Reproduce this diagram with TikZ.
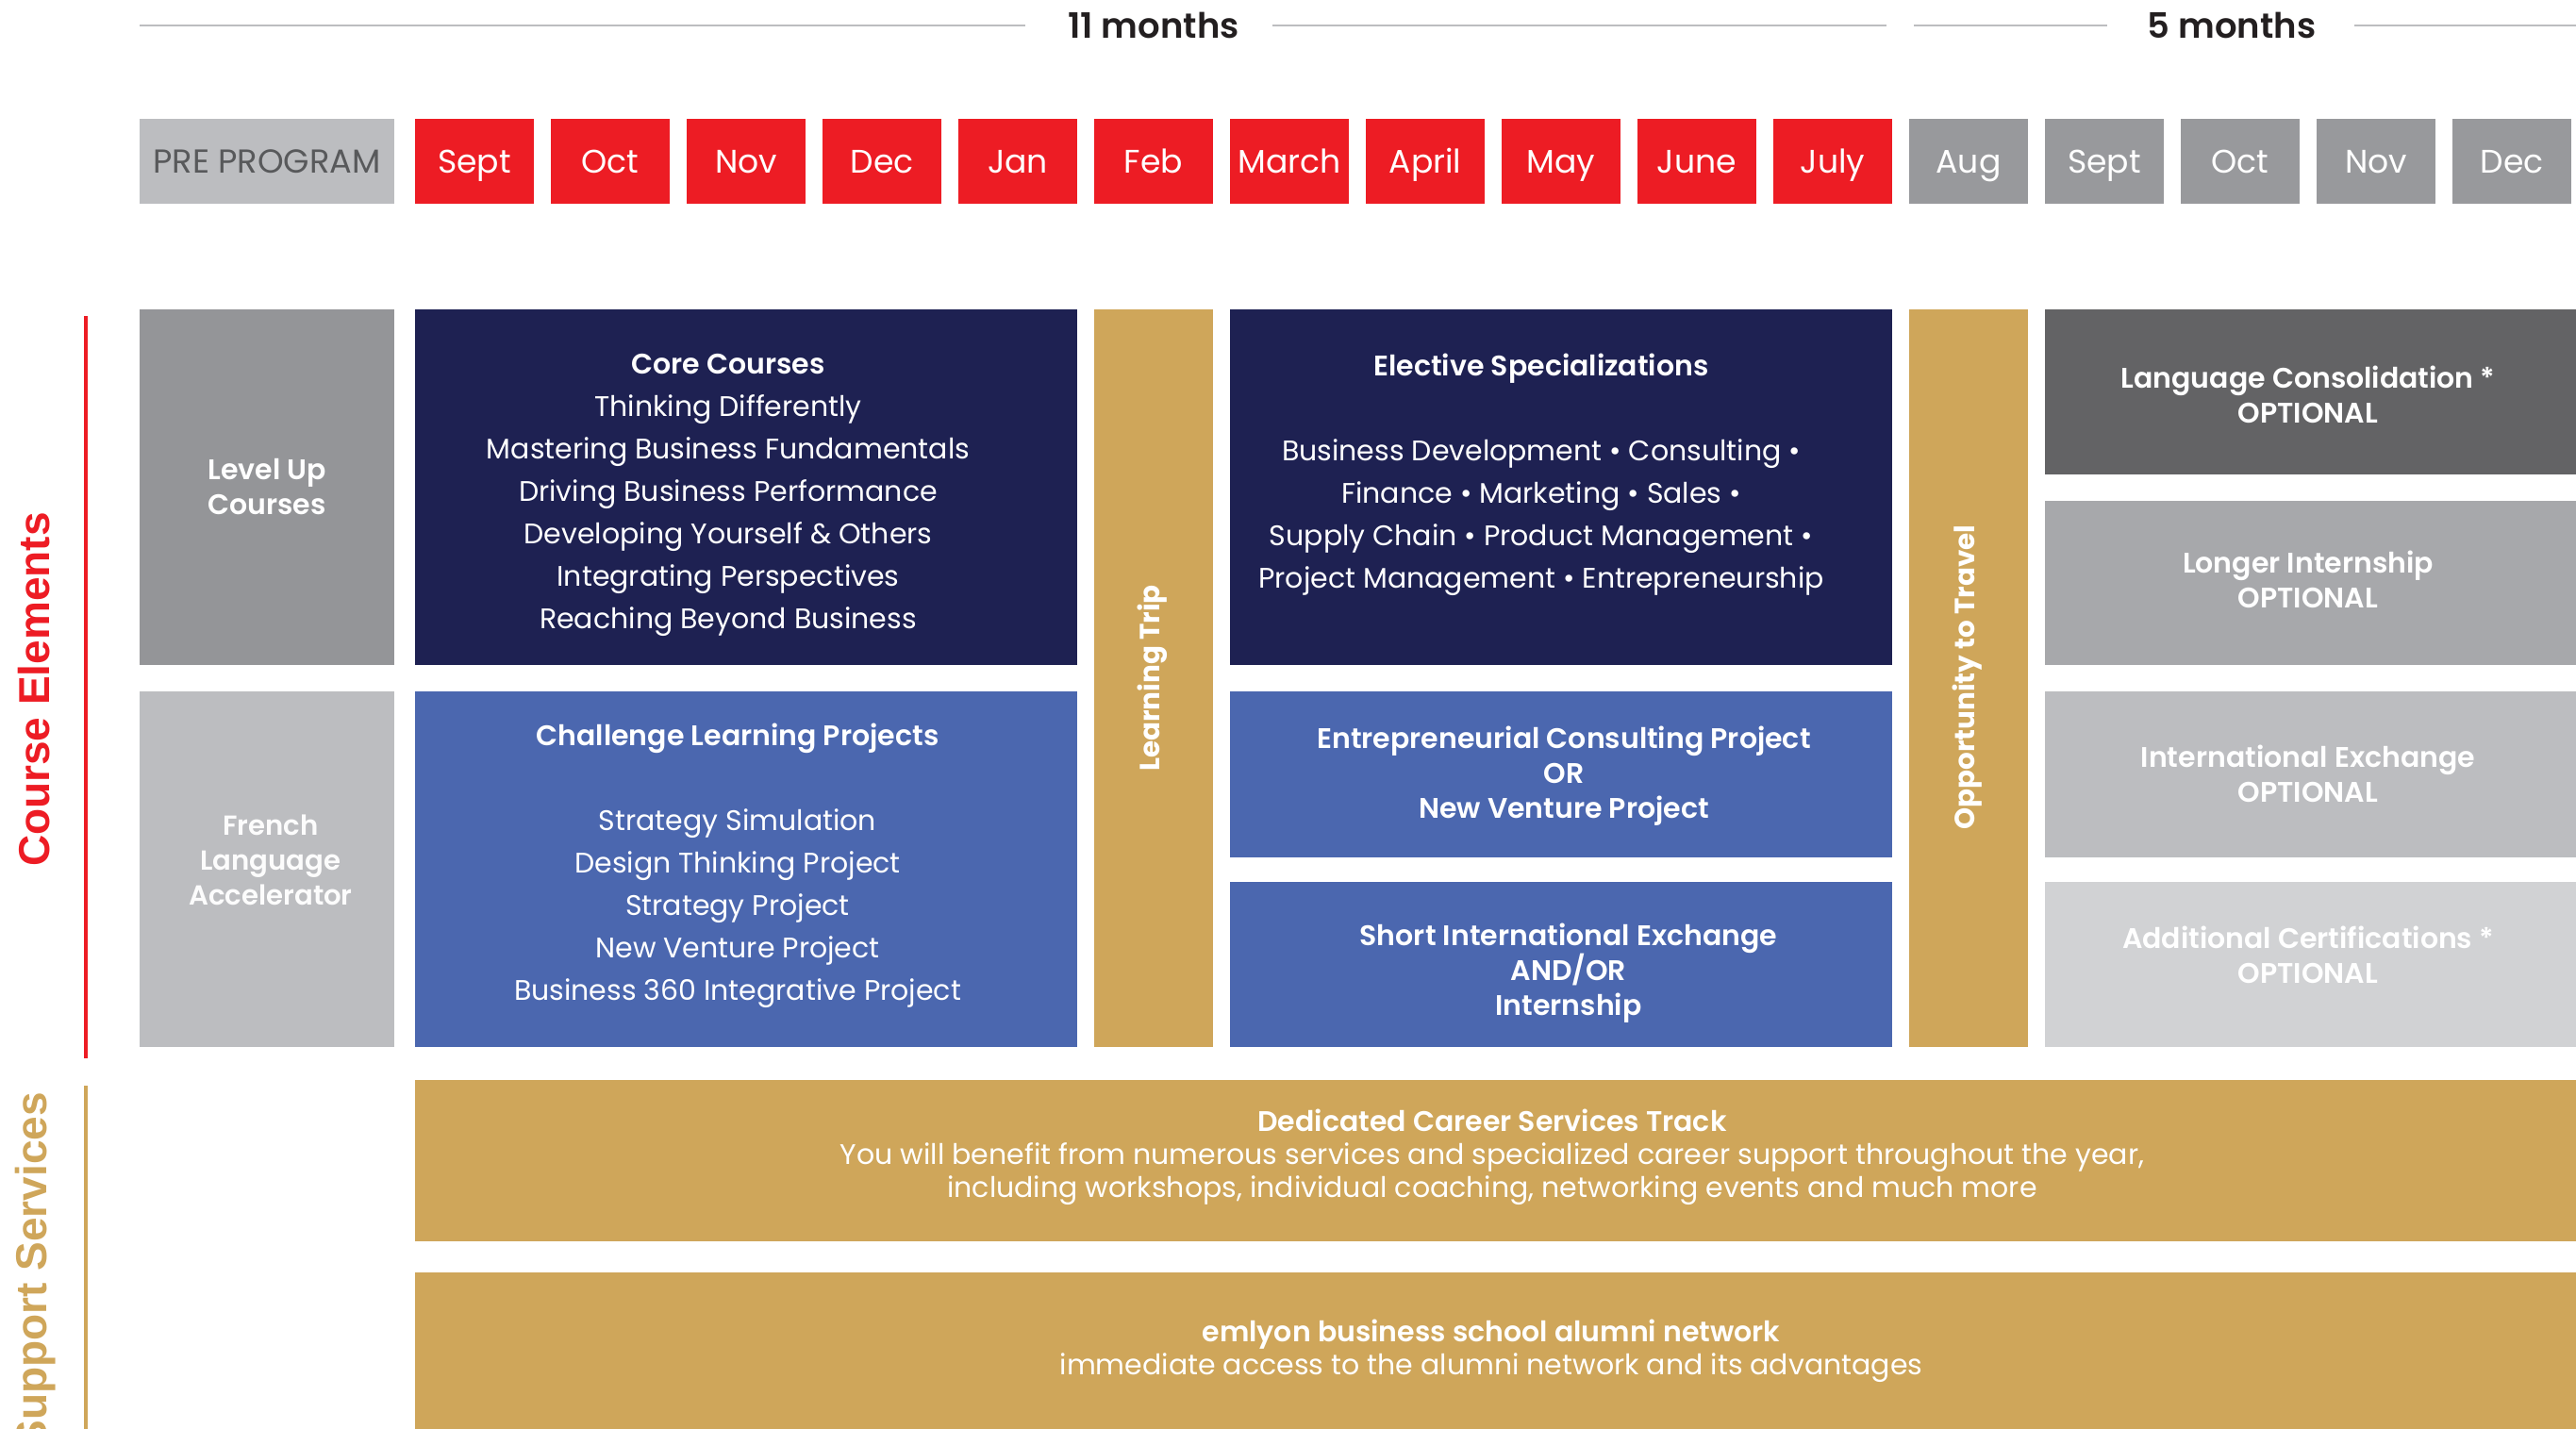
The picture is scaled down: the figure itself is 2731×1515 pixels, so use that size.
\documentclass[tikz,border=0pt]{standalone}
\usepackage{fontspec}
\setmainfont{Poppins}[BoldFont={Poppins SemiBold}]
\newfontfamily\popheavy{Poppins}
\newfontfamily\arialfont{Liberation Sans}
\definecolor{ered}{HTML}{ED1C24}
\definecolor{navy}{HTML}{1E2152}
\definecolor{eblue}{HTML}{4B67AF}
\definecolor{gold}{HTML}{CFA65A}
\definecolor{gA}{HTML}{BCBDC0}
\definecolor{gM}{HTML}{98999C}
\definecolor{gL}{HTML}{949598}
\definecolor{gD}{HTML}{636365}
\definecolor{gB}{HTML}{A7A8AB}
\definecolor{gC}{HTML}{D1D2D4}
\definecolor{ink}{HTML}{231F20}
\definecolor{pretxt}{HTML}{58595B}
\definecolor{rulegray}{HTML}{BCBDC0}
\newcommand\bx[6]{\node[boxst, fill=#6, minimum width={(#4-#2)*0.5pt}, minimum height={(#5-#3)*0.5pt}] (#1) at ({(#2+#4)/2},{(#3+#5)/2}) {};}
\tikzset{
  boxst/.style={inner sep=0pt, outer sep=0pt, draw=none, anchor=center},
  mon/.style={boxst, text=white, font=\fontsize{17.3}{20}\selectfont, text height=12.1pt, text depth=0pt, minimum width=63pt, minimum height=45pt},
  txt/.style={inner sep=0pt, outer sep=0pt, align=center, text=white, font=\fontsize{15}{22.5}\selectfont},
  btxt/.style={inner sep=0pt, outer sep=0pt, align=center, text=white, font=\bfseries\fontsize{15}{18.5}\selectfont},
  rtxt/.style={inner sep=0pt, outer sep=0pt, rotate=90, text=white, font=\popheavy\bfseries\fontsize{14.7}{18}\selectfont},
  sidetxt/.style={inner sep=0pt, outer sep=0pt, rotate=90, font=\arialfont\bfseries\fontsize{23}{23}\selectfont},
  ruleline/.style={draw=rulegray, line width=1.25pt},
  months/.style={inner sep=0pt, text=ink, font=\bfseries\fontsize{18.5}{20}\selectfont}
}
\begin{document}
\begin{tikzpicture}[x=0.5pt,y=-0.5pt]
\useasboundingbox (0,0) rectangle (2731,1515);
\clip (0,0) rectangle (2731,1515);
\fill[white] (0,0) rectangle (2731,1515);

% top duration labels
\node[months] (m11) at (1223,27) {11 months};
\node[months] (m5) at (2366,27) {5 months};
\coordinate (l1a) at (148,27); \coordinate (l1b) at (1087,27);
\coordinate (l2a) at (1349,27); \coordinate (l2b) at (2000,27);
\coordinate (l3a) at (2029,27); \coordinate (l3b) at (2234,27);
\coordinate (l4a) at (2496,27); \coordinate (l4b) at (2731,27);
\draw[ruleline] (l1a) -- (l1b);
\draw[ruleline] (l2a) -- (l2b);
\draw[ruleline] (l3a) -- (l3b);
\draw[ruleline] (l4a) -- (l4b);

% month row
\node[mon, fill=gA, text=pretxt, minimum width=135pt, font=\fontsize{17.6}{20}\selectfont] (pre) at (283,171) {PRE PROGRAM};
\foreach \lab [count=\i from 0] in {Sept,Oct,Nov,Dec,Jan,Feb,March,April,May,June,July}
  \node[mon, fill=ered] (m\i) at ({503+144*\i},171) {\lab};
\foreach \lab [count=\i from 11] in {Aug,Sept,Oct,Nov,Dec}
  \node[mon, fill=gM] (m\i) at ({503+144*\i},171) {\lab};

% side labels
\coordinate (redtop) at (91,335); \coordinate (redbot) at (91,1122);
\draw[ered, line width=2pt] (redtop) -- (redbot);
\coordinate (goldtop) at (91,1151); \coordinate (goldbot) at (91,1520);
\draw[gold, line width=2pt] (goldtop) -- (goldbot);
\node[sidetxt, text=ered] (ce) at (36,731) {Course Elements};
\node[sidetxt, text=gold, anchor=east] (ss) at (38,1158) {Support Services};

% boxes
\bx{lvl}{148}{328}{418}{705}{gL}
\bx{core}{440}{328}{1142}{705}{navy}
\bx{ltrip}{1160}{328}{1286}{1110}{gold}
\bx{fr}{148}{733}{418}{1110}{gA}
\bx{chal}{440}{733}{1142}{1110}{eblue}
\bx{elec}{1304}{328}{2006}{705}{navy}
\bx{entre}{1304}{733}{2006}{909}{eblue}
\bx{short}{1304}{935}{2006}{1110}{eblue}
\bx{opp}{2024}{328}{2150}{1110}{gold}
\bx{lang}{2168}{328}{2731}{503}{gD}
\bx{longer}{2168}{531}{2731}{705}{gB}
\bx{intl}{2168}{733}{2731}{909}{gA}
\bx{addl}{2168}{935}{2731}{1110}{gC}
\bx{career}{440}{1145}{2731}{1316}{gold}
\bx{alumni}{440}{1349}{2731}{1560}{gold}

% texts
\node[btxt] (lvl-t) at (283,516) {Level Up\\Courses};
\node[btxt, text=white!96!gA, font=\bfseries\fontsize{14.6}{18.5}\selectfont] (fr-t) at (287,912) {French\\Language\\Accelerator};
\node[txt] (core-t) at (772,525) {\textbf{Core Courses}\\Thinking Differently\\Mastering Business Fundamentals\\Driving Business Performance\\Developing Yourself \& Others\\Integrating Perspectives\\Reaching Beyond Business};
\node[txt] (chal-t) at (782,918) {\textbf{Challenge Learning Projects}\\[22.5pt]Strategy Simulation\\Design Thinking Project\\Strategy Project\\New Venture Project\\Business 360 Integrative Project};
\node[txt] (elec-t) at (1634,503) {\textbf{Elective Specializations}\\[22.5pt]Business Development • Consulting •\\Finance • Marketing • Sales •\\Supply Chain • Product Management •\\Project Management • Entrepreneurship};
\node[btxt] (entre-t) at (1658,823) {Entrepreneurial Consulting Project\\OR\\New Venture Project};
\node[btxt] (short-t) at (1663,1032) {Short International Exchange\\AND/OR\\Internship};
\node[rtxt] (ltrip-t) at (1222,719) {Learning Trip};
\node[rtxt] (opp-t) at (2086,718) {Opportunity to Travel};
\node[btxt] (lang-t) at (2447,418) {Language Consolidation *\\OPTIONAL};
\node[btxt] (longer-t) at (2447,614) {Longer Internship\\OPTIONAL};
\node[btxt] (intl-t) at (2447,820) {International Exchange\\OPTIONAL};
\node[btxt] (addl-t) at (2447,1012) {Additional Certifications *\\OPTIONAL};
\node[txt, font=\fontsize{15}{17.5}\selectfont] (career-t) at (1582,1227) {\textbf{Dedicated Career Services Track}\\You will benefit from numerous services and specialized career support throughout the year,\\including workshops, individual coaching, networking events and much more};
\node[txt, font=\fontsize{15}{17.5}\selectfont] (alumni-t) at (1581,1432) {\textbf{emlyon business school alumni network}\\immediate access to the alumni network and its advantages};
\end{tikzpicture}
\end{document}
